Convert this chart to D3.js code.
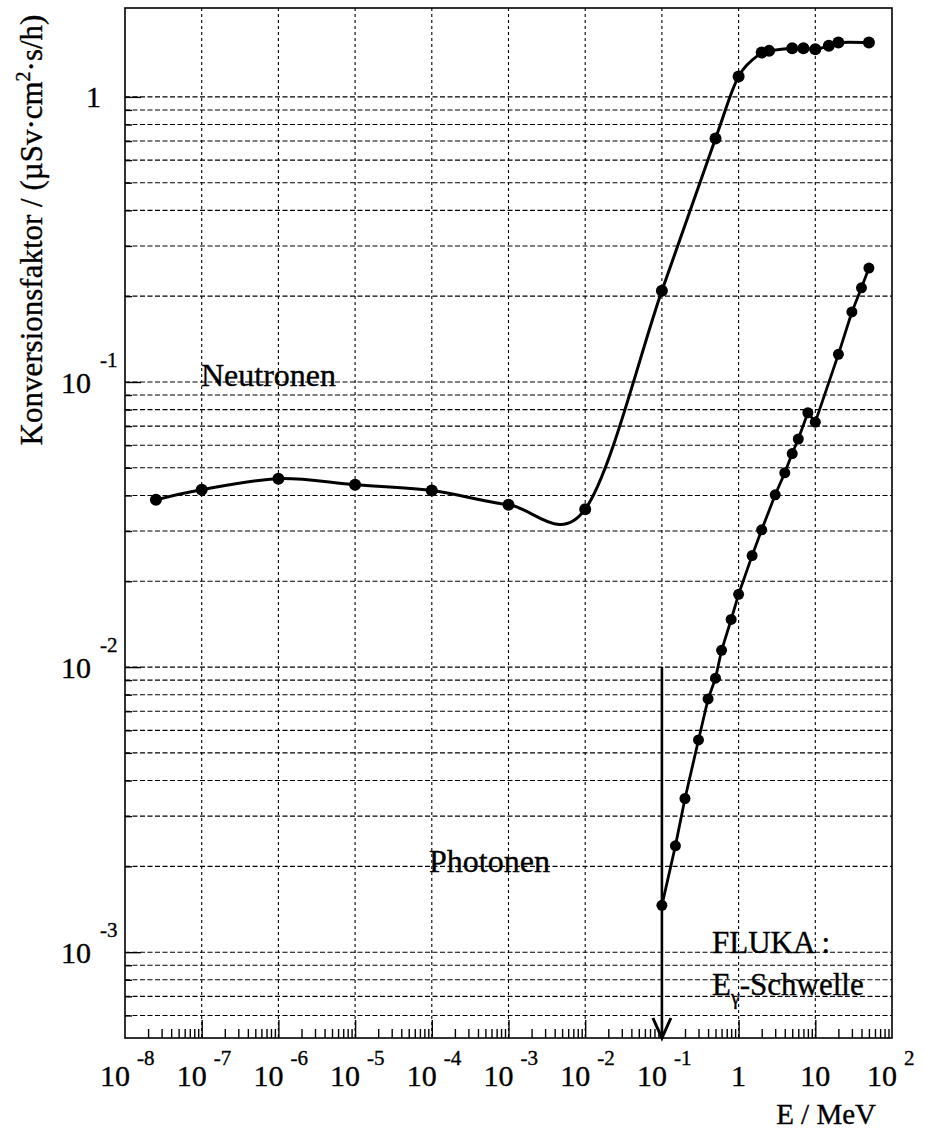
<!DOCTYPE html>
<html>
<head>
<meta charset="utf-8">
<script src="https://cdn.jsdelivr.net/npm/d3@7/dist/d3.min.js"></script>
<style>
  body { margin: 0; background: #fff; }
  svg text { font-family: 'Liberation Serif', 'Times New Roman', serif; fill: #000; stroke: #000; stroke-width: 0.35px; }
</style>
</head>
<body>
<div id="screen"></div>
<script>
// Neutronen: Energie (MeV) und Konversionsfaktor
const neutronE = [2.53e-8, 1e-7, 1e-6, 1e-5, 1e-4, 1e-3, 1e-2, 0.1, 0.5, 1, 2, 2.5, 5, 7, 10, 15, 20, 50]
const neutronH = [0.0386, 0.0419, 0.0458, 0.0436, 0.0416, 0.0371, 0.0358, 0.209, 0.714, 1.18, 1.43, 1.45, 1.48, 1.48, 1.47, 1.51, 1.55, 1.55]

// Photonen
const photonE = [0.1, 0.15, 0.2, 0.3, 0.4, 0.5, 0.6, 0.8, 1, 1.5, 2, 3, 4, 5, 6, 8, 10, 20, 30, 40, 50]
const photonH = [0.00146, 0.00236, 0.00346, 0.00555, 0.00773, 0.00914, 0.01145, 0.01469, 0.0180, 0.0246, 0.0303, 0.0402, 0.0480, 0.0561, 0.0631, 0.0780, 0.0723, 0.125, 0.176, 0.214, 0.251]

// FLUKA Photonen-Schwelle
const thresholdE = 0.1
const thresholdTop = 0.01

// Achsenbeschriftungen [Wert, Basis, Exponent]
const xTickLabels = [
  [1e-8, '10', '-8'], [1e-7, '10', '-7'], [1e-6, '10', '-6'], [1e-5, '10', '-5'],
  [1e-4, '10', '-4'], [1e-3, '10', '-3'], [1e-2, '10', '-2'], [1e-1, '10', '-1'],
  [1, '1', ''], [10, '10', ''], [100, '10', '2']
]
const yTickLabels = [[1, '1', ''], [0.1, '10', '-1'], [0.01, '10', '-2'], [0.001, '10', '-3']]

const width = 925
const height = 1139
const margin = { top: 8, right: 33, bottom: 101, left: 125 }
const x0 = margin.left
const x1 = width - margin.right
const y0 = height - margin.bottom
const y1 = margin.top

const svg = d3.select('#screen').append('svg')
  .attr('width', width)
  .attr('height', height)

const x = d3.scaleLog().domain([1e-8, 1e2]).range([x0, x1])
const y = d3.scaleLog().domain([5e-4, 2.05]).range([y0, y1])

// Gitterwerte
const xDecades = d3.range(-7, 2).map(k => Math.pow(10, k))
const xMinor = []
for (let k = -8; k < 2; k++) {
  for (let m = 2; m <= 9; m++) xMinor.push(m * Math.pow(10, k))
}
const yDecades = [1e-3, 1e-2, 1e-1, 1]
const yMinor = []
for (let k = -4; k <= 0; k++) {
  for (let m = 2; m <= 9; m++) {
    const v = m * Math.pow(10, k)
    if (v > 5.5e-4 && v < 1) yMinor.push(v)
  }
}

// horizontale Gitterlinien
svg.append('g')
  .selectAll('line')
  .data(yDecades.concat(yMinor))
  .join('line')
  .attr('x1', x0).attr('x2', x1)
  .attr('y1', d => y(d)).attr('y2', d => y(d))
  .attr('stroke', '#000')
  .attr('stroke-width', 1.1)
  .attr('stroke-dasharray', '5,2.5')

// vertikale Gitterlinien
svg.append('g')
  .selectAll('line')
  .data(xDecades)
  .join('line')
  .attr('x1', d => x(d)).attr('x2', d => x(d))
  .attr('y1', y1).attr('y2', y0)
  .attr('stroke', '#000')
  .attr('stroke-width', 1.1)
  .attr('stroke-dasharray', '3,3')

// Ticks
function tickAxis (axis, pos, values, size) {
  const g = svg.append('g')
    .attr('transform', pos)
    .call(axis.tickValues(values).tickSize(size).tickFormat(''))
  g.select('.domain').remove()
  g.selectAll('line').attr('stroke', '#000').attr('stroke-width', 1.4)
}
tickAxis(d3.axisBottom(x), `translate(0,${y0})`, xMinor, -9)
tickAxis(d3.axisBottom(x), `translate(0,${y0})`, xDecades, -18)
tickAxis(d3.axisLeft(y), `translate(${x0},0)`, yMinor, -7)
tickAxis(d3.axisLeft(y), `translate(${x0},0)`, yDecades, -16)

// Rahmen
svg.append('rect')
  .attr('x', x0).attr('y', y1)
  .attr('width', x1 - x0).attr('height', y0 - y1)
  .attr('fill', 'none')
  .attr('stroke', '#000')
  .attr('stroke-width', 1.6)

// Beschriftungen der Ticks
const xl = svg.append('g')
xTickLabels.forEach(([v, base, exp]) => {
  const px = x(v)
  if (exp) {
    xl.append('text').attr('x', px + 5).attr('y', 1086)
      .attr('text-anchor', 'end').attr('font-size', 30).text(base)
    xl.append('text').attr('x', px + 12).attr('y', 1065)
      .attr('font-size', 21).text(exp)
  } else {
    xl.append('text').attr('x', px).attr('y', 1086)
      .attr('text-anchor', 'middle').attr('font-size', 30).text(base)
  }
})

const yl = svg.append('g')
yTickLabels.forEach(([v, base, exp]) => {
  const py = y(v)
  if (exp) {
    yl.append('text').attr('x', 91).attr('y', py + 11)
      .attr('text-anchor', 'end').attr('font-size', 30).text(base)
    yl.append('text').attr('x', 100).attr('y', py - 15)
      .attr('font-size', 21).text(exp)
  } else {
    yl.append('text').attr('x', 101).attr('y', py + 10)
      .attr('text-anchor', 'end').attr('font-size', 30).text(base)
  }
})

// Achsentitel
svg.append('text')
  .attr('x', 876).attr('y', 1124)
  .attr('text-anchor', 'end')
  .attr('font-size', 29)
  .text('E / MeV')

const yTitle = svg.append('text')
  .attr('transform', 'translate(42,230) rotate(-90)')
  .attr('text-anchor', 'middle')
  .attr('font-size', 31)
yTitle.append('tspan').text('Konversionsfaktor / (µSv·cm')
yTitle.append('tspan').attr('dy', -12).attr('font-size', 20).text('2')
yTitle.append('tspan').attr('dy', 12).text('·s/h)')

// Kurven
const neutron = neutronE.map((e, i) => ({ e, h: neutronH[i] }))
const photon = photonE.map((e, i) => ({ e, h: photonH[i] }))

svg.append('path')
  .datum(neutron)
  .attr('fill', 'none')
  .attr('stroke', '#000')
  .attr('stroke-width', 3)
  .attr('d', d3.line().x(d => x(d.e)).y(d => y(d.h)).curve(d3.curveCatmullRom.alpha(0)))

svg.append('path')
  .datum(photon)
  .attr('fill', 'none')
  .attr('stroke', '#000')
  .attr('stroke-width', 2.8)
  .attr('stroke-linejoin', 'round')
  .attr('d', d3.line().x(d => x(d.e)).y(d => y(d.h)))

svg.append('g')
  .selectAll('circle')
  .data(neutron)
  .join('circle')
  .attr('cx', d => x(d.e)).attr('cy', d => y(d.h))
  .attr('r', 6)
  .attr('fill', '#000')

svg.append('g')
  .selectAll('circle')
  .data(photon)
  .join('circle')
  .attr('cx', d => x(d.e)).attr('cy', d => y(d.h))
  .attr('r', 5.5)
  .attr('fill', '#000')

// Pfeil an der Schwelle
const ax = x(thresholdE)
svg.append('line')
  .attr('x1', ax).attr('x2', ax)
  .attr('y1', y(thresholdTop)).attr('y2', y0)
  .attr('stroke', '#000').attr('stroke-width', 2.6)
svg.append('path')
  .attr('d', `M${ax - 9},${y0 - 20}L${ax},${y0}L${ax + 9},${y0 - 20}`)
  .attr('fill', 'none')
  .attr('stroke', '#000')
  .attr('stroke-width', 3)

// Texte im Diagramm
svg.append('text').attr('x', 201).attr('y', 386).attr('font-size', 32).text('Neutronen')
svg.append('text').attr('x', 429).attr('y', 872).attr('font-size', 32).text('Photonen')

svg.append('text').attr('x', 712).attr('y', 953).attr('font-size', 31).text('FLUKA :')
const sw = svg.append('text').attr('x', 712).attr('y', 995).attr('font-size', 31)
sw.append('tspan').text('E')
sw.append('tspan').attr('dy', 9).attr('font-size', 20).text('γ')
sw.append('tspan').attr('dy', -9).text('-Schwelle')
</script>
</body>
</html>
